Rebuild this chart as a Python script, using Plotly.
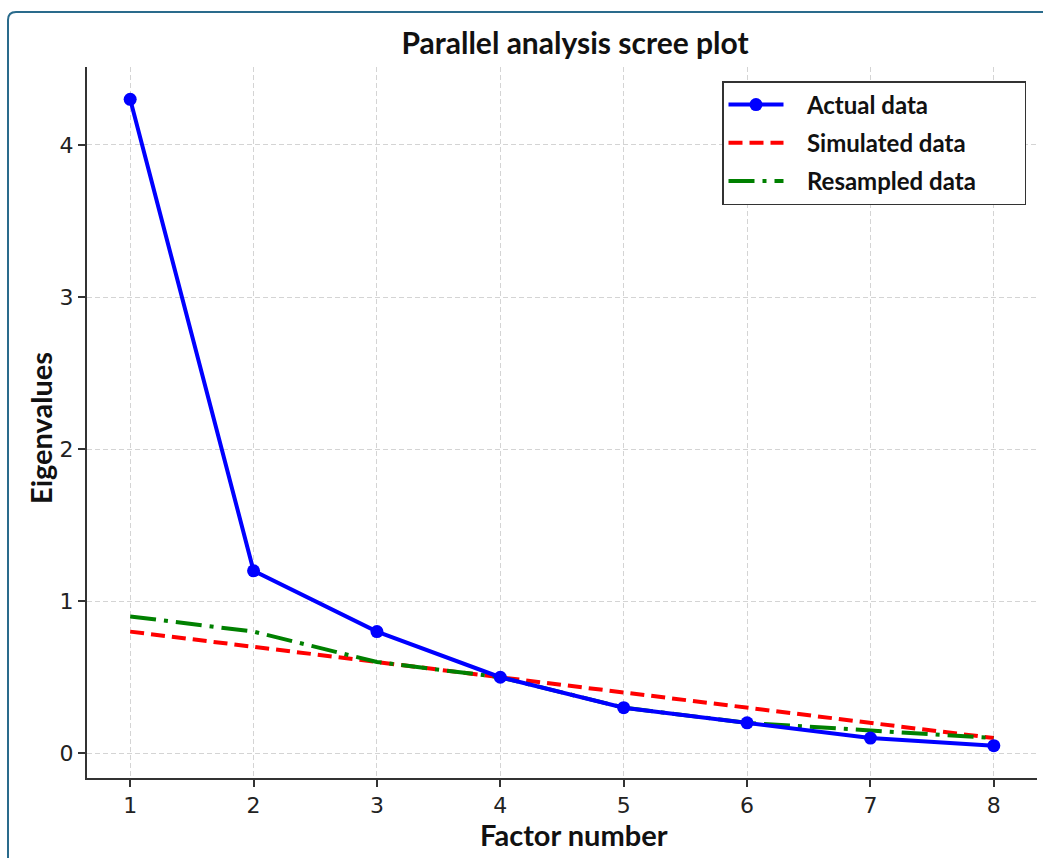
import plotly.graph_objects as go

factors = [1, 2, 3, 4, 5, 6, 7, 8]
actual = [4.3, 1.2, 0.8, 0.5, 0.3, 0.2, 0.1, 0.05]
simulated = [0.8, 0.7, 0.6, 0.5, 0.4, 0.3, 0.2, 0.1]
resampled = [0.9, 0.8, 0.6, 0.5, 0.3, 0.2, 0.15, 0.1]
x_ticks = [1, 2, 3, 4, 5, 6, 7, 8]
y_ticks = [0, 1, 2, 3, 4]

W, H = 1043, 858
L, R, T, B = 87, 6, 67, 80
pw, ph = W - L - R, H - T - B

def px(xp):
    return (xp - L) / pw

def py(yp):
    return (H - B - yp) / ph

pad = "&nbsp;" * 7
fig = go.Figure()
fig.add_trace(go.Scatter(x=factors, y=simulated, mode="lines", name="&nbsp;&nbsp;&nbsp;<b>Simulated data</b>" + pad,
                         line=dict(color="#ff0000", width=4, dash="14px,7px"), legendgroup="b", legendrank=2))
fig.add_trace(go.Scatter(x=factors, y=resampled, mode="lines", name="&nbsp;&nbsp;&nbsp;<b>Resampled data</b>" + pad,
                         line=dict(color="#008000", width=4, dash="26px,8px,4px,8px"), legendgroup="c", legendrank=3))
fig.add_trace(go.Scatter(x=factors, y=actual, mode="lines+markers", name="&nbsp;&nbsp;&nbsp;<b>Actual data</b>" + pad,
                         line=dict(color="#0000ff", width=4),
                         marker=dict(color="#0000ff", size=13), legendgroup="a", legendrank=1))

grid = dict(showgrid=True, gridcolor="#d4d4d4", gridwidth=1, griddash="5px,3px")
common = dict(ticks="outside", ticklen=7, tickwidth=1.5, tickcolor="#333", showline=True,
              linecolor="#333", linewidth=2, zeroline=False,
              tickfont=dict(family="DejaVu Sans", size=22, color="#222"))
fig.update_xaxes(range=[0.65, 8.35], tickvals=x_ticks, **common, **grid)
fig.update_yaxes(range=[-0.1625, 4.5125], tickvals=y_ticks, **common, **grid)

fig.add_annotation(text="<b>Factor number</b>", xref="paper", yref="paper", x=px(574), y=py(835),
                   xanchor="center", yanchor="middle", showarrow=False,
                   font=dict(family="Lato", size=29, color="#111"))
fig.add_annotation(text="<b>Eigenvalues</b>", xref="paper", yref="paper", x=px(40), y=py(428),
                   xanchor="center", yanchor="middle", showarrow=False, textangle=-90,
                   font=dict(family="Lato", size=29, color="#111"))

x0, y0 = px(8), py(12)
x1, y1 = px(1060), py(880)
rx = 8 / pw
ry = 8 / ph
path = (f"M {x0},{y1} L {x0},{y0 - ry} Q {x0},{y0} {x0 + rx},{y0} L {x1},{y0}")
fig.add_shape(type="path", xref="paper", yref="paper", path=path,
              line=dict(color="#2a6b8c", width=2))

fig.update_layout(
    width=W, height=H,
    margin=dict(l=L, r=R, t=T, b=B),
    paper_bgcolor="white", plot_bgcolor="white",
    title=dict(text="<b>Parallel analysis scree plot</b>", xref="paper", x=px(575), xanchor="center",
               y=1 - 43 / H, yanchor="middle",
               font=dict(family="Lato", size=30, color="#111")),
    legend=dict(x=px(1026), y=py(81), xanchor="right", yanchor="top",
                bordercolor="#333", borderwidth=1.5, bgcolor="white",
                font=dict(family="Lato", size=24, color="#111"),
                traceorder="grouped", tracegroupgap=4, itemwidth=55),
    showlegend=True,
)

fig.write_html("out.html", config={"displayModeBar": False},
               post_script="document.body.style.margin='0';document.body.style.overflow='hidden';")
